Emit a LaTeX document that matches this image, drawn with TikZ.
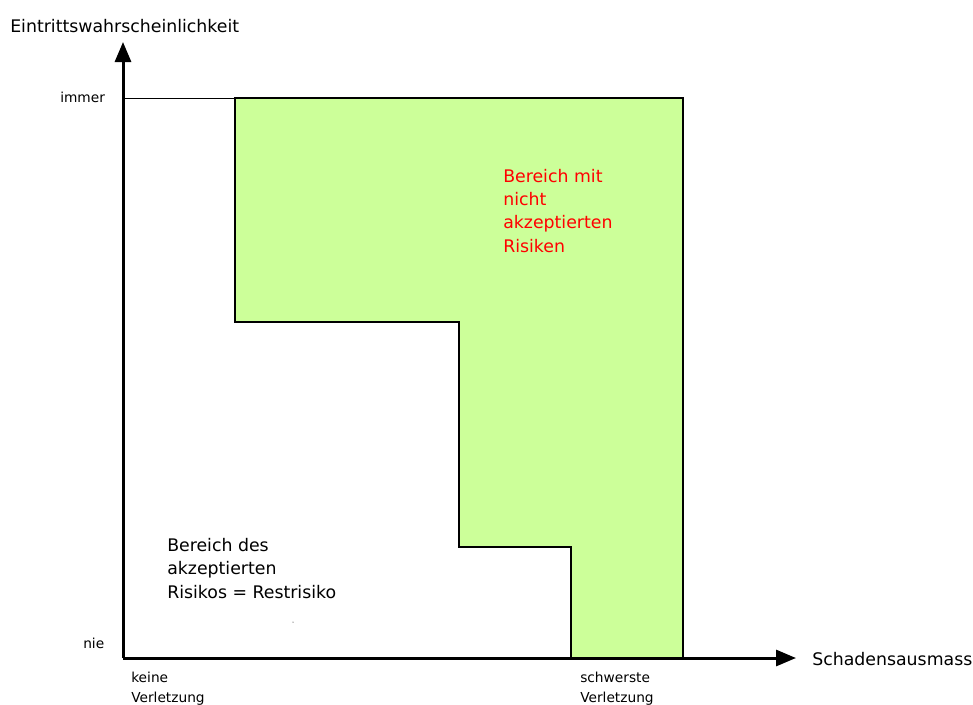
\documentclass[tikz,border=0pt]{standalone}
\usepackage{fontspec}
\setmainfont{DejaVu Sans}
\usetikzlibrary{arrows.meta}
\definecolor{gruen}{RGB}{204,255,153}
\tikzset{
  achse/.style={line width=2.25pt, -{Triangle[length=15pt,width=12pt]}},
  gross/.style={inner sep=0pt, align=left, font=\fontsize{13pt}{17.5pt}\selectfont},
  klein/.style={inner sep=0pt, align=left, font=\fontsize{10.3pt}{14.8pt}\selectfont},
}

\begin{document}
\begin{tikzpicture}[x=0.75pt, y=-0.75pt]
			%%%%% START %%%%%
			\useasboundingbox (0,0) rectangle (973,704);
			
			\coordinate (O) at (123, 658);
			\coordinate (ytip) at (123, 42);
			\coordinate (xtip) at (796, 658);
			
			% nicht akzeptierte Risiken
			\draw[line width=1.1pt, fill=gruen] (235, 98) -- (683, 98) -- (683, 658) -- (571, 658) -- (571, 547) -- (459, 547) -- (459, 322) -- (235, 322) -- cycle;
			\draw[line width=0.7pt] (123, 98) -- (235, 98);
			
			\draw[achse] (O) -- (ytip);
			\draw[achse] (O) -- (xtip);
			
			\node[gross, anchor=base west] (ylabel) at (10, 32) {Eintrittswahrscheinlichkeit};
			\node[gross, anchor=base west] (xlabel) at (812, 665) {Schadensausmass};
			
			\node[klein, anchor=base west] (immer) at (60, 102) {immer};
			\node[klein, anchor=base west] (nie) at (83, 648) {nie};
			% Grundlinie = letzte Zeile
			\node[klein, anchor=base west] (keine) at (131, 702) {keine\\Verletzung};
			\node[klein, anchor=base west] (schwerste) at (580, 702) {schwerste\\Verletzung};
			
			\node[gross, anchor=base west, text=red] (rot) at (503, 252) {Bereich mit\\nicht\\akzeptierten\\Risiken};
			\node[gross, anchor=base west] (rest) at (167, 598) {Bereich des\\akzeptierten\\Risikos = Restrisiko};
			
			\fill (293, 622) circle (0.5);
			%%%%% END %%%%%
\end{tikzpicture}
\end{document}
